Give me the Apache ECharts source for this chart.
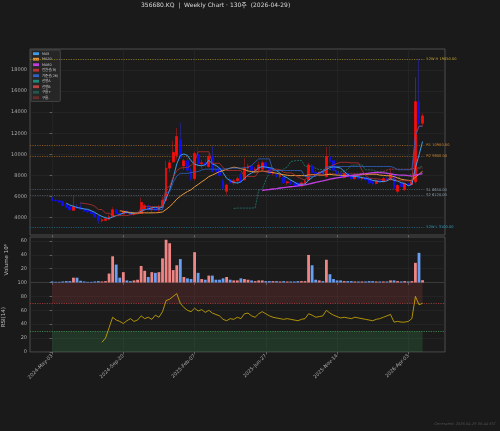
<!DOCTYPE html>
<html>
<head>
<meta charset="utf-8">
<script src="https://cdn.jsdelivr.net/npm/echarts@6/dist/echarts.min.js"></script>
<style>
  html, body { margin: 0; padding: 0; background: #1a1a1a; }
  #main { width: 500px; height: 431px; }
</style>
</head>
<body>
<div id="main"></div>
<script>
// weekly bars, index 0 = 2024-05-03
var weekTicks = [0, 20, 40, 60, 80, 100]
var weekLabels = ['2024-May-03', '2024-Sep-20', '2025-Feb-07', '2025-Jun-27', '2025-Nov-14', '2026-Apr-03']

var openP = [5900, 5650, 5600, 5500, 5300, 5050, 4700, 5050, 5000, 4800,
  4700, 4550, 4400, 4150, 3700, 3750, 3850, 4100, 4750, 4400,
  4350, 4600, 4450, 4300, 4400, 4420, 4800, 5150, 4750, 4900,
  4700, 5000, 5650, 8700, 9300, 9900, 11400, 8900, 9400, 8500,
  7700, 10000, 9100, 9200, 8850, 9800, 8600, 8700, 7500, 6500,
  7600, 7300, 7500, 8100, 7600, 8700, 8900, 8500, 8500, 8600,
  9200, 8700, 8200, 8100, 7900, 7800, 7300, 7400, 7250, 7300,
  7000, 7300, 7550, 8900, 8300, 8200, 8300, 7900, 9800, 9400,
  8400, 8200, 7800, 8200, 8000, 7700, 7900, 7700, 7800, 7700,
  7400, 7250, 7500, 7400, 7700, 7600, 8100, 6500, 7250, 6650,
  7250, 7150, 7400, 15000, 12950]
var highP = [5950, 5750, 5650, 5600, 5400, 5100, 6150, 5300, 5450, 4900,
  4800, 4650, 4450, 4200, 3950, 4150, 4300, 5000, 4800, 4600,
  4700, 4750, 4600, 4500, 4600, 5900, 5300, 5250, 5000, 5100,
  5200, 6000, 9400, 9500, 11300, 12500, 13000, 9600, 9700, 8700,
  10300, 10700, 9500, 9600, 10000, 10800, 9200, 8800, 7700, 7200,
  7800, 7700, 7900, 8300, 9650, 9100, 9000, 8800, 9300, 9400,
  9300, 8800, 8500, 8200, 8100, 7900, 7500, 7600, 7400, 7400,
  7400, 7600, 9200, 9100, 8500, 8400, 8500, 10700, 10800, 9500,
  8500, 8300, 8300, 8300, 8200, 8000, 8000, 7900, 7900, 7800,
  7500, 7600, 7700, 7900, 7900, 8700, 8200, 7150, 7350, 7300,
  7300, 7450, 17300, 19050, 13900]
var lowP = [5550, 5550, 5400, 5100, 4900, 4650, 4650, 4850, 4750, 4550,
  4450, 4300, 4000, 3400, 3550, 3650, 3750, 4050, 4350, 4300,
  4300, 4400, 4250, 4200, 4300, 4380, 4650, 4700, 4400, 4650,
  4500, 4900, 5550, 8300, 9200, 9500, 9600, 8500, 8300, 7500,
  7500, 8900, 8600, 8800, 8700, 8300, 8300, 7900, 6700, 6150,
  7200, 7100, 7200, 7300, 7500, 8300, 8400, 8200, 8400, 8500,
  8600, 8100, 8000, 7800, 7700, 7200, 7100, 7100, 6900, 6900,
  6900, 7200, 7500, 8200, 8000, 7900, 8100, 7800, 9200, 8400,
  8000, 7700, 7700, 7800, 7600, 7600, 7600, 7500, 7500, 7200,
  7100, 7150, 7300, 7350, 7500, 7500, 6700, 6300, 6900, 6550,
  7050, 7100, 7250, 12800, 12700]
var closeP = [5620, 5600, 5480, 5150, 5000, 4750, 5050, 4900, 4800, 4650,
  4550, 4400, 4100, 3750, 3800, 3900, 4100, 4750, 4400, 4350,
  4600, 4450, 4300, 4400, 4450, 5450, 5150, 4750, 4900, 4700,
  5000, 5650, 8700, 9200, 10200, 11700, 9700, 9400, 8500, 7700,
  10100, 9100, 9200, 9000, 9800, 8400, 8350, 8000, 6800, 7100,
  7300, 7500, 7700, 7400, 8700, 8900, 8500, 8600, 9000, 9200,
  8700, 8200, 8300, 7900, 8000, 7300, 7400, 7200, 7000, 6950,
  7300, 7500, 9000, 8300, 8200, 8300, 8200, 9800, 9300, 8500,
  8100, 7800, 8200, 7900, 7700, 7900, 7700, 7800, 7600, 7300,
  7250, 7500, 7400, 7700, 7600, 8200, 6800, 7050, 6950, 7250,
  7100, 7400, 15000, 12950, 13650]

// volume, millions of shares
var volume = [1.5, 1, 1, 1.5, 2, 2, 7, 7, 2.5, 1.5,
  1, 1, 1.5, 2, 1.5, 2, 13, 38, 26, 7,
  15, 3, 2, 3, 4, 24, 17, 8, 15, 14,
  15, 35, 62, 57, 18, 25, 34, 8, 6, 5,
  44, 14, 5, 4, 10, 10, 4, 4, 6, 8,
  4, 3, 3, 6, 5, 4, 3, 2, 3, 3,
  2, 2, 2, 2, 1.5, 2, 1.5, 1.5, 1.5, 2,
  2, 2, 40, 25, 4, 3, 2, 33, 12, 5,
  3, 3, 2, 2, 2, 1.5, 1.5, 1.5, 1.5, 2,
  2, 1.5, 1.5, 1.5, 1.5, 3, 3, 2, 1.5, 2,
  1.5, 2, 28.5, 43, 3.3]

var rsi14 = [null, null, null, null, null, null, null, null, null, null,
  null, null, null, null, 14, 20, 35, 50, 46, 44,
  41, 45, 48, 44, 46, 52, 48, 50, 47, 53,
  50, 58, 74, 76, 80, 84, 70, 64, 60, 58,
  63, 59, 61, 57, 60, 56, 54, 52, 47, 45,
  48, 47, 50, 48, 55, 56, 52, 50, 55, 58,
  55, 52, 50, 49, 48, 47, 48, 47, 46, 45,
  47, 48, 55, 53, 50, 51, 52, 60, 56, 53,
  51, 49, 50, 49, 48, 50, 49, 48, 47, 46,
  45, 47, 48, 50, 52, 54, 43, 44, 43, 43,
  44, 48, 80, 68, 70]

var levelNames = ['52W H', 'R1', 'R2', 'S1', 'S2', '52W L']
var levelValues = [19050, 10900, 9800, 6650, 6120, 3100]

var priceTicks = [4000, 6000, 8000, 10000, 12000, 14000, 16000, 18000]
var volumeTicks = [20, 40, 60]
var rsiTicks = [0, 20, 40, 60, 80, 100]

// ---- styles ----
var FONT = "'DejaVu Sans', 'Noto Sans CJK KR', sans-serif"
var X_MIN = -6.2
var X_MAX = 110.3
var levelColors = { '52W H': ['#8a7a1e', '#c9a92e'], R1: ['#8a5a1e', '#d08a30'], R2: ['#8a5a1e', '#d08a30'],
  S1: ['#4a5866', '#90a4b4'], S2: ['#4a5866', '#90a4b4'], '52W L': ['#1e6478', '#2fa0c0'] }

// ---- indicators from the bars ----
function sma (src, n) {
  return src.map(function (v, i) {
    if (i < n - 1) return null
    var s = 0
    for (var k = i - n + 1; k <= i; k++) s += src[k]
    return s / n
  })
}
function midHL (n) {
  return closeP.map(function (v, i) {
    if (i < n - 1) return null
    var hi = -Infinity, lo = Infinity
    for (var k = i - n + 1; k <= i; k++) { hi = Math.max(hi, highP[k]); lo = Math.min(lo, lowP[k]) }
    return (hi + lo) / 2
  })
}
function shift (src, n) {
  return src.map(function (v, i) { return i - n >= 0 ? src[i - n] : null })
}
var ma5 = sma(closeP, 5)
var ma20 = sma(closeP, 20)
var ma60 = sma(closeP, 60)
var tenkan = midHL(9)
var kijun = midHL(26)
var spanA = shift(tenkan.map(function (v, i) { return v == null || kijun[i] == null ? null : (v + kijun[i]) / 2 }), 26)
var spanB = shift(midHL(52), 26)

function pts (arr) {
  var out = []
  arr.forEach(function (v, i) { if (v != null) out.push([i, v]) })
  return out
}

// cloud bands (only where both spans exist)
var cloudBase = [], cloudUp = [], cloudDn = []
spanA.forEach(function (a, i) {
  var b = spanB[i]
  if (a == null || b == null) return
  cloudBase.push([i, Math.min(a, b)])
  cloudUp.push([i, a > b ? a - b : 0])
  cloudDn.push([i, b > a ? b - a : 0])
})

var wicks = [], bodies = [], volBars = []
closeP.forEach(function (c, i) {
  var o = openP[i]
  wicks.push([i, o, c, lowP[i], highP[i]])
  bodies.push([i, o, c, Math.min(o, c), Math.max(o, c)])
  volBars.push({ value: [i, volume[i]], itemStyle: { color: c >= o ? '#f08585' : '#6a9ef0' } })
})

var lastIdx = closeP.length - 1
var levelLines = levelNames.map(function (name, k) {
  var v = levelValues[k]
  var col = levelColors[name]
  return [
    { coord: [X_MIN, v], lineStyle: { color: col[0] },
      label: { show: true, position: 'end', distance: 2, color: col[1], fontSize: 3.6, formatter: name + ' ' + v.toFixed(2) } },
    { coord: [lastIdx + 0.5, v] }
  ]
})

function xAxisFor (grid, showLabels) {
  return {
    type: 'value', gridIndex: grid, min: X_MIN, max: X_MAX,
    axisLine: { show: false },
    axisTick: { show: true, customValues: weekTicks, length: 2.5, lineStyle: { color: '#888', width: 0.6 } },
    axisLabel: {
      show: showLabels, customValues: weekTicks, rotate: 45, fontSize: 5, color: '#aaaaaa', margin: 3,
      formatter: function (v) { var k = weekTicks.indexOf(Math.round(v)); return k < 0 ? '' : weekLabels[k] }
    },
    splitLine: { show: true, lineStyle: { color: '#2a2a2a', width: 0.6 } }
  }
}
function yAxisFor (grid, min, max, ticks, name, gap) {
  return {
    type: 'value', gridIndex: grid, min: min, max: max,
    name: name, nameLocation: 'middle', nameGap: gap, nameRotate: 90,
    nameTextStyle: { color: '#bbbbbb', fontSize: 5.5 },
    axisLine: { show: false },
    axisTick: { show: true, customValues: ticks, length: 2.5, lineStyle: { color: '#888', width: 0.6 } },
    axisLabel: { customValues: ticks, fontSize: 5, color: '#aaaaaa', margin: 3, formatter: function (v) { return String(Math.round(v)) } },
    splitLine: { show: true, lineStyle: { color: '#2a2a2a', width: 0.6 } }
  }
}
function lineSeries (name, data, color, width, extra) {
  var s = {
    name: name, type: 'line', xAxisIndex: 0, yAxisIndex: 0, data: data, color: color,
    symbol: 'none', lineStyle: { color: color, width: width }, silent: true, z: 3
  }
  for (var k in extra) s[k] = extra[k]
  return s
}

var gridStyle = { show: true, borderColor: '#5a5a5a', borderWidth: 0.8, backgroundColor: '#1b1b1b', outerBoundsMode: 'none' }
var chart = echarts.init(document.getElementById('main'))
var option = {
  backgroundColor: '#1a1a1a',
  animation: false,
  textStyle: { fontFamily: FONT },
  graphic: [
    { type: 'text', left: 141, top: 2, style: { text: '356680.KQ  |  Weekly Chart · 130주  (2026-04-29)', fill: '#d8d8d8', fontSize: 6, fontFamily: FONT } },
    { type: 'text', right: 4, top: 422, style: { text: 'Generated: 2026-04-29 06:44 KST', fill: '#4e4e4e', fontSize: 3.6, fontStyle: 'italic', fontFamily: FONT } }
  ],
  legend: {
    left: 31, top: 50, orient: 'vertical', icon: 'rect',
    itemWidth: 6, itemHeight: 2.8, itemGap: 2.1, padding: [2, 2, 2, 2],
    backgroundColor: '#262626', borderColor: '#5a5a5a', borderWidth: 0.6, borderRadius: 1,
    textStyle: { color: '#cccccc', fontSize: 3.4, lineHeight: 3.4, padding: [0, 0, 0, -2], fontFamily: FONT },
    data: ['MA5', 'MA20', 'MA60', '전환선(9)', '기준선(26)', '선행A', '선행B', '구름+', '구름-']
  },
  grid: [
    Object.assign({ left: 30, top: 49, width: 415, height: 186 }, gridStyle),
    Object.assign({ left: 30, top: 237, width: 415, height: 45.5 }, gridStyle),
    Object.assign({ left: 30, top: 282.5, width: 415, height: 69.5 }, gridStyle)
  ],
  xAxis: [xAxisFor(0, false), xAxisFor(1, false), xAxisFor(2, true)],
  yAxis: [
    yAxisFor(0, 2360, 19990, priceTicks, 'Price', 20),
    yAxisFor(1, 0, 66, volumeTicks, 'Volume 10⁶', 13),
    yAxisFor(2, 0, 100, rsiTicks, 'RSI(14)', 13)
  ],
  series: [
    // ichimoku cloud
    lineSeries('cloudBase', cloudBase, 'transparent', 0, { stack: 'cloud', z: 1 }),
    lineSeries('구름+', cloudUp, '#1f5a4c', 0, { stack: 'cloud', z: 1, areaStyle: { color: 'rgba(38,150,130,0.28)' } }),
    lineSeries('구름-', cloudDn, '#6a2a2a', 0, { stack: 'cloud', z: 1, areaStyle: { color: 'rgba(200,70,70,0.22)' } }),
    // levels
    {
      name: 'levels', type: 'line', xAxisIndex: 0, yAxisIndex: 0, data: [], silent: true,
      markLine: { silent: true, symbol: 'none', lineStyle: { type: [1.2, 1.2], width: 0.9 }, data: levelLines }
    },
    // candles: dark wicks underneath, bright bodies on top
    {
      name: 'wick', type: 'candlestick', xAxisIndex: 0, yAxisIndex: 0, data: wicks, barWidth: 2.3,
      encode: { x: 0, y: [1, 2, 3, 4] }, silent: true, z: 4,
      itemStyle: { color: '#8b1c1c', color0: '#24248c', borderColor: '#8b1c1c', borderColor0: '#24248c', borderWidth: 0.8 }
    },
    {
      name: 'body', type: 'candlestick', xAxisIndex: 0, yAxisIndex: 0, data: bodies, barWidth: 2.3,
      encode: { x: 0, y: [1, 2, 3, 4] }, silent: true, z: 5,
      itemStyle: { color: '#ff0a0a', color0: '#0a0aff', borderColor: '#ff0a0a', borderColor0: '#0a0aff', borderWidth: 0.5 }
    },
    lineSeries('MA5', pts(ma5), '#3f9ce8', 1, { z: 6 }),
    lineSeries('MA20', pts(ma20), '#e8963a', 1, { z: 6 }),
    lineSeries('MA60', pts(ma60), '#c03ee0', 1.3, { z: 6 }),
    lineSeries('전환선(9)', pts(tenkan), '#b83030', 0.8, { z: 6 }),
    lineSeries('기준선(26)', pts(kijun), '#2f62c4', 0.8, { z: 6 }),
    lineSeries('선행A', pts(spanA), '#1f8a7a', 0.7, { z: 2, lineStyle: { color: '#1f8a7a', width: 0.7, type: [2, 1] } }),
    lineSeries('선행B', pts(spanB), '#b84444', 0.7, { z: 2, lineStyle: { color: '#b84444', width: 0.7, type: [2, 1] } }),
    // volume
    {
      name: 'Volume', type: 'bar', xAxisIndex: 1, yAxisIndex: 1, data: volBars, barWidth: 2.8, silent: true
    },
    // rsi
    {
      name: 'RSI', type: 'line', xAxisIndex: 2, yAxisIndex: 2, data: pts(rsi14), symbol: 'none', silent: true,
      lineStyle: { color: '#d4b000', width: 0.8 }, color: '#d4b000', z: 5,
      markArea: {
        silent: true,
        data: [
          [{ xAxis: 0, yAxis: 70, itemStyle: { color: 'rgba(170,60,60,0.22)' } }, { xAxis: lastIdx, yAxis: 100 }],
          [{ xAxis: 0, yAxis: 0, itemStyle: { color: 'rgba(60,150,80,0.22)' } }, { xAxis: lastIdx, yAxis: 30 }]
        ]
      },
      markLine: {
        silent: true, symbol: 'none', label: { show: false },
        data: [
          { yAxis: 70, lineStyle: { color: '#a03a3a', type: [1.2, 1.2], width: 0.9 } },
          { yAxis: 30, lineStyle: { color: '#3a8a4a', type: [1.2, 1.2], width: 0.9 } }
        ]
      }
    }
  ]
}
chart.setOption(option)
</script>
</body>
</html>
